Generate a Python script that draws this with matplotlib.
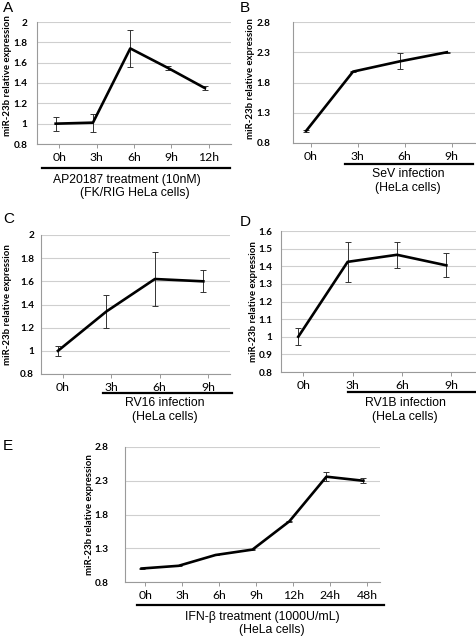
import matplotlib.pyplot as plt

W, H = 477, 638

# panel data
a_labels = ["0h", "3h", "6h", "9h", "12h"]
a_vals = [1.0, 1.01, 1.74, 1.55, 1.35]
a_err = [0.07, 0.09, 0.18, 0.02, 0.02]

b_labels = ["0h", "3h", "6h", "9h"]
b_vals = [1.0, 1.98, 2.15, 2.30]
b_err = [0.01, 0.01, 0.13, 0.01]

c_labels = ["0h", "3h", "6h", "9h"]
c_vals = [1.0, 1.34, 1.62, 1.60]
c_err = [0.045, 0.145, 0.23, 0.095]

d_labels = ["0h", "3h", "6h", "9h"]
d_vals = [1.0, 1.425, 1.465, 1.405]
d_err = [0.048, 0.115, 0.075, 0.068]

e_labels = ["0h", "3h", "6h", "9h", "12h", "24h", "48h"]
e_vals = [1.0, 1.04, 1.20, 1.28, 1.70, 2.36, 2.30]
e_err = [0.01, 0.005, 0.005, 0.005, 0.005, 0.07, 0.035]

fig = plt.figure(figsize=(W / 100, H / 100), dpi=100)
fig.patch.set_facecolor("white")

TICKFONT = "Lato"
TEXTFONT = "Liberation Sans"


def px_axes(x0, y0, x1, y1):
    # pixel box (top-left origin) -> figure coords
    return fig.add_axes([x0 / W, 1 - y1 / H, (x1 - x0) / W, (y1 - y0) / H])


def panel(box, labels, vals, err, yticks, xlim, ypad, lab_x, lab_y=0.5):
    ax = px_axes(*box)
    x = list(range(len(vals)))
    ax.errorbar(x, vals, yerr=err, color="black", lw=1.9, ecolor="#333333",
                elinewidth=0.7, capsize=2.2, capthick=0.7, zorder=3)
    ax.set_ylim(yticks[0], yticks[-1])
    ax.set_yticks(yticks)
    ax.set_yticklabels([("%g" % t) for t in yticks], fontsize=7.2, fontweight="bold",
                       family=TICKFONT)
    ax.set_xlim(*xlim)
    ax.set_xticks([i + 0.1 for i in x])
    ax.set_xticklabels(labels, fontsize=8.8, family=TICKFONT)
    ax.tick_params(axis="x", length=3, width=0.6, color="#888888", pad=2.5)
    ax.tick_params(axis="y", length=0, pad=ypad)
    ax.grid(axis="y", color="#cfcfcf", lw=0.8)
    ax.set_axisbelow(True)
    for s in ["top", "right"]:
        ax.spines[s].set_visible(False)
    for s in ["left", "bottom"]:
        ax.spines[s].set_color("#9a9a9a")
        ax.spines[s].set_linewidth(0.8)
    ax.set_ylabel("miR-23b relative expression", fontsize=6.9, fontweight="bold",
                  family=TICKFONT)
    ax.yaxis.set_label_coords(lab_x, lab_y)
    return ax


def bar_text(x0, x1, y, lines, cx, ys):
    fig.add_artist(plt.Line2D([x0 / W, x1 / W], [1 - y / H, 1 - y / H], color="black", lw=1.6))
    for t, yy, xx in zip(lines, ys, cx):
        fig.text(xx / W, 1 - yy / H, t, ha="center", va="center", fontsize=8.8, family=TEXTFONT)


panel((37, 22, 231, 144), a_labels, a_vals, a_err, [0.8, 1, 1.2, 1.4, 1.6, 1.8, 2],
      (-0.5, 4.7), 7, -0.127, 0.56)
panel((293, 22, 475, 143), b_labels, b_vals, b_err, [0.8, 1.3, 1.8, 2.3, 2.8],
      (-0.28, 3.6), 16, -0.21, 0.53)
panel((41, 235, 230, 374), c_labels, c_vals, c_err, [0.8, 1, 1.2, 1.4, 1.6, 1.8, 2],
      (-0.35, 3.55), 5, -0.155, 0.5)
panel((281, 231, 476, 372), d_labels, d_vals, d_err,
      [0.8, 0.9, 1, 1.1, 1.2, 1.3, 1.4, 1.5, 1.6], (-0.35, 3.6), 6, -0.12, 0.5)
panel((125, 447, 380, 582), e_labels, e_vals, e_err, [0.8, 1.3, 1.8, 2.3, 2.8],
      (-0.45, 6.45), 12, -0.12, 0.5)

bar_text(42, 230, 168, ["AP20187 treatment (10nM)", "(FK/RIG HeLa cells)"], [127, 135], [180, 193])
bar_text(345, 473, 164, ["SeV infection", "(HeLa cells)"], [408, 408], [174, 188])
bar_text(103, 232, 393, ["RV16 infection", "(HeLa cells)"], [165, 165], [403, 417])
bar_text(348, 477, 392, ["RV1B infection", "(HeLa cells)"], [405, 405], [403, 417])
bar_text(137, 384, 605, ["IFN-\u03b2 treatment (1000U/mL)", "(HeLa cells)"], [262, 272], [617, 630])

for letter, x, y in [("A", 3, 8), ("B", 240, 8), ("C", 3, 219), ("D", 240, 222), ("E", 3, 446)]:
    fig.text(x / W, 1 - y / H, letter, fontsize=11, va="center", ha="left", family=TEXTFONT)

fig.savefig("out.png", dpi=100)
